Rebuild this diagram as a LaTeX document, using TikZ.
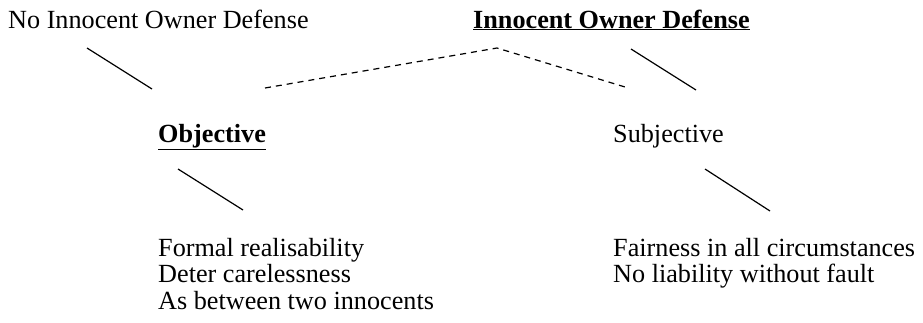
\documentclass[tikz,border=0pt]{standalone}
\usepackage{fontspec}
\setmainfont{Liberation Serif}
\usepackage{tikz}

\begin{document}
\begin{tikzpicture}[x=1pt,y=-1pt,
  lbl/.style={anchor=base west,inner sep=0pt,font=\fontsize{26.2}{26.5}\selectfont},
  lst/.style={lbl,align=left},
  stroke/.style={line width=1.2pt},
  dashstroke/.style={line width=1.2pt,dash pattern=on 6pt off 5pt}]
\useasboundingbox (0,0) rectangle (923,322);
\node (noiod) at (8,28) [lbl] {No Innocent Owner Defense};
\node (iod) at (473,28) [lbl] {\underline{\textbf{Innocent Owner Defense}}};
\node (obj) at (158,142) [lbl] {\underline{\textbf{Objective}}};
\node (subj) at (613,142) [lbl] {Subjective};
% base anchor of a list sits on its last line
\node (objlist) at (158,309) [lst] {Formal realisability\\Deter carelessness\\As between two innocents};
\node (subjlist) at (613,282.5) [lst] {Fairness in all circumstances\\No liability without fault};
\coordinate (a1) at (87,48);
\coordinate (a2) at (152,89);
\coordinate (b1) at (265,88);
\coordinate (top) at (497,48);
\coordinate (b2) at (625,87);
\coordinate (c1) at (631,49);
\coordinate (c2) at (696,90);
\coordinate (d1) at (178,169);
\coordinate (d2) at (243,210);
\coordinate (e1) at (705,169);
\coordinate (e2) at (770,211);
\draw [stroke] (a1) -- (a2);
\draw [dashstroke] (b1) -- (top) -- (b2);
\draw [stroke] (c1) -- (c2);
\draw [stroke] (d1) -- (d2);
\draw [stroke] (e1) -- (e2);
\end{tikzpicture}
\end{document}
